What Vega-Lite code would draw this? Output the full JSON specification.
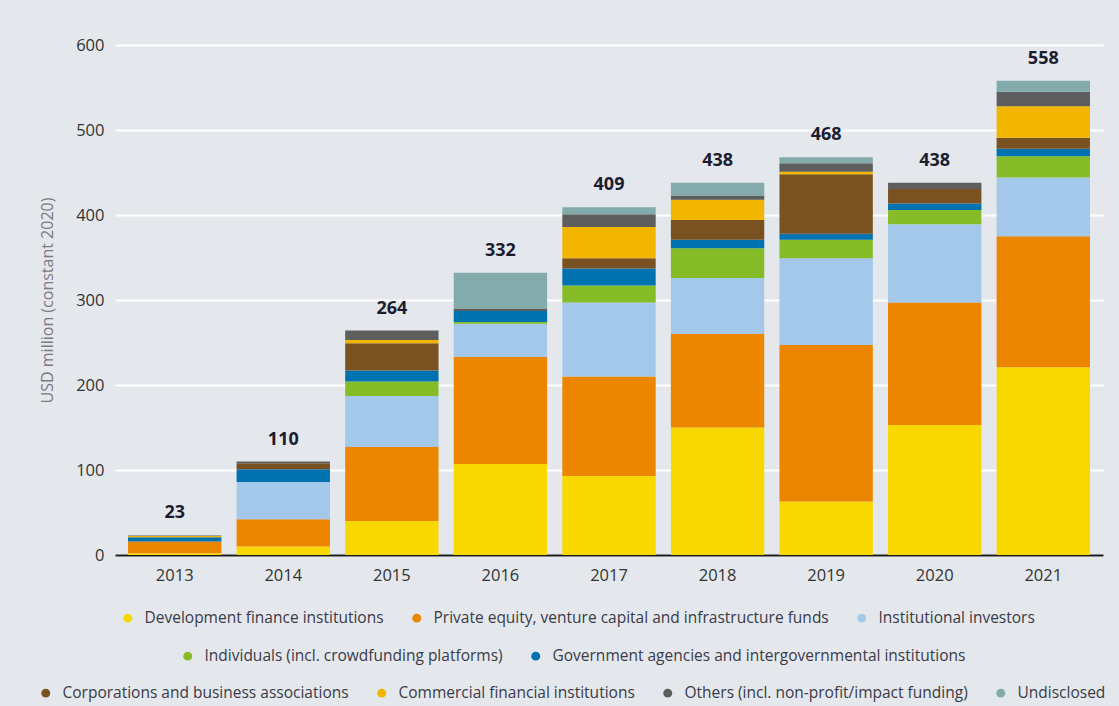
{
  "$schema": "https://vega.github.io/schema/vega-lite/v6.json",
  "width": 988,
  "height": 510,
  "autosize": {"type": "none"},
  "padding": {"left": 115, "top": 45, "right": 16, "bottom": 151},
  "background": "#E4E8EC",
  "config": {
    "view": {"stroke": null},
    "font": "Open Sans",
    "legend": {"padding": 0}
  },
  "data": {"values": [
    {"year": "2013", "k": 1, "cat": "Development finance institutions", "value": 2},
    {"year": "2013", "k": 2, "cat": "Private equity, venture capital and infrastructure funds", "value": 14},
    {"year": "2013", "k": 5, "cat": "Government agencies and intergovernmental institutions", "value": 5},
    {"year": "2013", "k": 7, "cat": "Commercial financial institutions", "value": 1.5},
    {"year": "2013", "k": 8, "cat": "Others (incl. non-profit/impact funding)", "value": 0.5},
    {"year": "2014", "k": 1, "cat": "Development finance institutions", "value": 10},
    {"year": "2014", "k": 2, "cat": "Private equity, venture capital and infrastructure funds", "value": 32},
    {"year": "2014", "k": 3, "cat": "Institutional investors", "value": 44},
    {"year": "2014", "k": 5, "cat": "Government agencies and intergovernmental institutions", "value": 15},
    {"year": "2014", "k": 6, "cat": "Corporations and business associations", "value": 7},
    {"year": "2014", "k": 8, "cat": "Others (incl. non-profit/impact funding)", "value": 2},
    {"year": "2015", "k": 1, "cat": "Development finance institutions", "value": 40},
    {"year": "2015", "k": 2, "cat": "Private equity, venture capital and infrastructure funds", "value": 87},
    {"year": "2015", "k": 3, "cat": "Institutional investors", "value": 60},
    {"year": "2015", "k": 4, "cat": "Individuals (incl. crowdfunding platforms)", "value": 17},
    {"year": "2015", "k": 5, "cat": "Government agencies and intergovernmental institutions", "value": 13},
    {"year": "2015", "k": 6, "cat": "Corporations and business associations", "value": 32},
    {"year": "2015", "k": 7, "cat": "Commercial financial institutions", "value": 4},
    {"year": "2015", "k": 8, "cat": "Others (incl. non-profit/impact funding)", "value": 11},
    {"year": "2016", "k": 1, "cat": "Development finance institutions", "value": 107},
    {"year": "2016", "k": 2, "cat": "Private equity, venture capital and infrastructure funds", "value": 126},
    {"year": "2016", "k": 3, "cat": "Institutional investors", "value": 39},
    {"year": "2016", "k": 4, "cat": "Individuals (incl. crowdfunding platforms)", "value": 2},
    {"year": "2016", "k": 5, "cat": "Government agencies and intergovernmental institutions", "value": 13},
    {"year": "2016", "k": 8, "cat": "Others (incl. non-profit/impact funding)", "value": 3},
    {"year": "2016", "k": 9, "cat": "Undisclosed", "value": 42},
    {"year": "2017", "k": 1, "cat": "Development finance institutions", "value": 93},
    {"year": "2017", "k": 2, "cat": "Private equity, venture capital and infrastructure funds", "value": 117},
    {"year": "2017", "k": 3, "cat": "Institutional investors", "value": 87},
    {"year": "2017", "k": 4, "cat": "Individuals (incl. crowdfunding platforms)", "value": 20},
    {"year": "2017", "k": 5, "cat": "Government agencies and intergovernmental institutions", "value": 20},
    {"year": "2017", "k": 6, "cat": "Corporations and business associations", "value": 12},
    {"year": "2017", "k": 7, "cat": "Commercial financial institutions", "value": 37},
    {"year": "2017", "k": 8, "cat": "Others (incl. non-profit/impact funding)", "value": 15},
    {"year": "2017", "k": 9, "cat": "Undisclosed", "value": 8},
    {"year": "2018", "k": 1, "cat": "Development finance institutions", "value": 150},
    {"year": "2018", "k": 2, "cat": "Private equity, venture capital and infrastructure funds", "value": 110},
    {"year": "2018", "k": 3, "cat": "Institutional investors", "value": 66},
    {"year": "2018", "k": 4, "cat": "Individuals (incl. crowdfunding platforms)", "value": 35},
    {"year": "2018", "k": 5, "cat": "Government agencies and intergovernmental institutions", "value": 10},
    {"year": "2018", "k": 6, "cat": "Corporations and business associations", "value": 23},
    {"year": "2018", "k": 7, "cat": "Commercial financial institutions", "value": 24},
    {"year": "2018", "k": 8, "cat": "Others (incl. non-profit/impact funding)", "value": 5},
    {"year": "2018", "k": 9, "cat": "Undisclosed", "value": 15},
    {"year": "2019", "k": 1, "cat": "Development finance institutions", "value": 63},
    {"year": "2019", "k": 2, "cat": "Private equity, venture capital and infrastructure funds", "value": 184},
    {"year": "2019", "k": 3, "cat": "Institutional investors", "value": 102},
    {"year": "2019", "k": 4, "cat": "Individuals (incl. crowdfunding platforms)", "value": 22},
    {"year": "2019", "k": 5, "cat": "Government agencies and intergovernmental institutions", "value": 7},
    {"year": "2019", "k": 6, "cat": "Corporations and business associations", "value": 70},
    {"year": "2019", "k": 7, "cat": "Commercial financial institutions", "value": 3},
    {"year": "2019", "k": 8, "cat": "Others (incl. non-profit/impact funding)", "value": 10},
    {"year": "2019", "k": 9, "cat": "Undisclosed", "value": 7},
    {"year": "2020", "k": 1, "cat": "Development finance institutions", "value": 153},
    {"year": "2020", "k": 2, "cat": "Private equity, venture capital and infrastructure funds", "value": 144},
    {"year": "2020", "k": 3, "cat": "Institutional investors", "value": 92},
    {"year": "2020", "k": 4, "cat": "Individuals (incl. crowdfunding platforms)", "value": 17},
    {"year": "2020", "k": 5, "cat": "Government agencies and intergovernmental institutions", "value": 7.5},
    {"year": "2020", "k": 6, "cat": "Corporations and business associations", "value": 17},
    {"year": "2020", "k": 8, "cat": "Others (incl. non-profit/impact funding)", "value": 7.5},
    {"year": "2021", "k": 1, "cat": "Development finance institutions", "value": 221},
    {"year": "2021", "k": 2, "cat": "Private equity, venture capital and infrastructure funds", "value": 154},
    {"year": "2021", "k": 3, "cat": "Institutional investors", "value": 69},
    {"year": "2021", "k": 4, "cat": "Individuals (incl. crowdfunding platforms)", "value": 25},
    {"year": "2021", "k": 5, "cat": "Government agencies and intergovernmental institutions", "value": 9},
    {"year": "2021", "k": 6, "cat": "Corporations and business associations", "value": 13},
    {"year": "2021", "k": 7, "cat": "Commercial financial institutions", "value": 37},
    {"year": "2021", "k": 8, "cat": "Others (incl. non-profit/impact funding)", "value": 17},
    {"year": "2021", "k": 9, "cat": "Undisclosed", "value": 13}
  ]},
  "encoding": {
    "x": {
      "field": "year", "type": "nominal",
      "scale": {"paddingInner": 0.14, "paddingOuter": 0.12},
      "axis": {"title": null, "labelAngle": 0, "ticks": false, "labelPadding": 12, "labelFontSize": 16.5, "labelColor": "#333333", "domainColor": "#1a1a1a", "domainWidth": 2, "grid": false}
    }
  },
  "layer": [
    {
      "mark": {"type": "bar"},
      "encoding": {
        "y": {
          "aggregate": "sum", "field": "value", "type": "quantitative", "stack": "zero",
          "scale": {"domain": [0, 600]},
          "axis": {"title": "USD million (constant 2020)", "values": [0, 100, 200, 300, 400, 500, 600], "domain": false, "ticks": false, "labelPadding": 11, "labelFontSize": 16.5, "labelColor": "#333333", "gridColor": "#FFFFFF", "gridWidth": 2, "titleFontSize": 16, "titleFontWeight": "normal", "titleColor": "#7A7A82", "titlePadding": 20}
        },
        "color": {
          "field": "cat", "type": "nominal", "legend": null,
          "scale": {
            "domain": ["Development finance institutions", "Private equity, venture capital and infrastructure funds", "Institutional investors", "Individuals (incl. crowdfunding platforms)", "Government agencies and intergovernmental institutions", "Corporations and business associations", "Commercial financial institutions", "Others (incl. non-profit/impact funding)", "Undisclosed"],
            "range": ["#F8D800", "#EC8500", "#A4C8EA", "#86BC28", "#0072B0", "#7A5222", "#F2B600", "#5E5E5E", "#83ABAB"]
          }
        },
        "order": {"field": "k", "type": "quantitative", "sort": "ascending"}
      }
    },
    {
      "transform": [{"aggregate": [{"op": "sum", "field": "value", "as": "total"}], "groupby": ["year"]}],
      "mark": {"type": "text", "baseline": "middle", "dy": -22, "fontWeight": "bold", "fontSize": 18, "color": "#1C1C30"},
      "encoding": {
        "y": {"field": "total", "type": "quantitative"},
        "text": {"field": "total", "type": "quantitative", "format": "d"}
      }
    },
    {
      "transform": [{"filter": {"field": "k", "oneOf": [1, 2, 3]}}],
      "mark": {"type": "point", "filled": true, "opacity": 0},
      "encoding": {
        "y": {"field": "value", "type": "quantitative"},
        "color": {
          "field": "cat", "type": "nominal",
          "scale": {"domain": ["Development finance institutions", "Private equity, venture capital and infrastructure funds", "Institutional investors"], "range": ["#F8D800", "#EC8500", "#A4C8EA"]},
          "legend": {"orient": "none", "legendX": 5, "legendY": 565, "direction": "horizontal", "title": null, "symbolType": "circle", "symbolSize": 80, "symbolOpacity": 1, "symbolStrokeWidth": 0, "labelFontSize": 15.5, "labelColor": "#3A3A48", "labelOffset": 9, "columnPadding": 25, "labelLimit": 600}
        }
      }
    },
    {
      "transform": [{"filter": {"field": "k", "oneOf": [4, 5]}}],
      "mark": {"type": "point", "filled": true, "opacity": 0},
      "encoding": {
        "y": {"field": "value", "type": "quantitative"},
        "color": {
          "field": "cat", "type": "nominal",
          "scale": {"domain": ["Individuals (incl. crowdfunding platforms)", "Government agencies and intergovernmental institutions"], "range": ["#86BC28", "#0072B0"]},
          "legend": {"orient": "none", "legendX": 65, "legendY": 603, "direction": "horizontal", "title": null, "symbolType": "circle", "symbolSize": 80, "symbolOpacity": 1, "symbolStrokeWidth": 0, "labelFontSize": 15.5, "labelColor": "#3A3A48", "labelOffset": 9, "columnPadding": 25, "labelLimit": 600}
        }
      }
    },
    {
      "transform": [{"filter": {"field": "k", "oneOf": [6, 7, 8, 9]}}],
      "mark": {"type": "point", "filled": true, "opacity": 0},
      "encoding": {
        "y": {"field": "value", "type": "quantitative"},
        "color": {
          "field": "cat", "type": "nominal",
          "scale": {"domain": ["Corporations and business associations", "Commercial financial institutions", "Others (incl. non-profit/impact funding)", "Undisclosed"], "range": ["#7A5222", "#F2B600", "#5E5E5E", "#83ABAB"]},
          "legend": {"orient": "none", "legendX": -77, "legendY": 640, "direction": "horizontal", "title": null, "symbolType": "circle", "symbolSize": 80, "symbolOpacity": 1, "symbolStrokeWidth": 0, "labelFontSize": 15.5, "labelColor": "#3A3A48", "labelOffset": 9, "columnPadding": 25, "labelLimit": 600}
        }
      }
    }
  ],
  "resolve": {"scale": {"color": "independent"}}
}
